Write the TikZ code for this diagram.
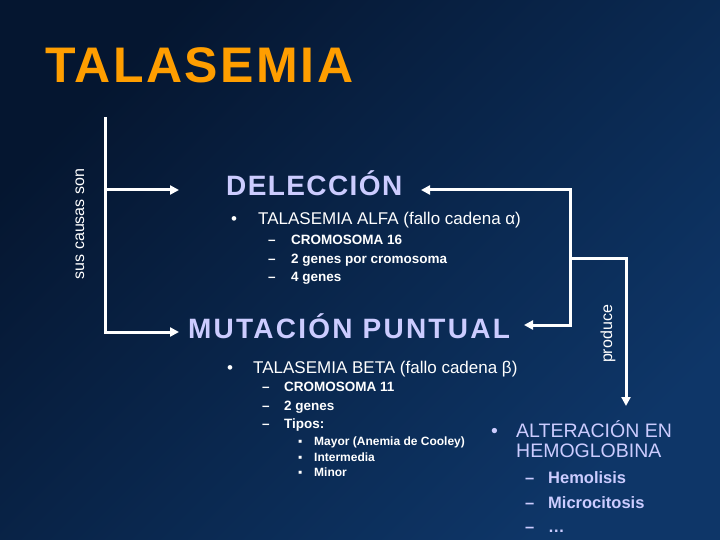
\documentclass[tikz,border=0pt]{standalone}
\usepackage{fontspec}
\setmainfont{Liberation Sans}
\usetikzlibrary{arrows.meta}
\definecolor{bgA}{RGB}{5,22,48}
\definecolor{bgB}{RGB}{14,54,104}
\definecolor{ttl}{RGB}{255,158,0}
\definecolor{lav}{RGB}{204,204,255}
\newcommand{\fsz}[1]{\fontsize{#1}{#1}\selectfont}

\begin{document}
\begin{tikzpicture}[x=1pt,y=-1pt,
  txt/.style={anchor=base west,inner sep=0pt,text=white},
  hd/.style={txt,text=lav},
  lv1/.style={txt,font=\fsz{17}},
  lv2/.style={txt,font=\fsz{13.5}\bfseries},
  lv3/.style={txt,font=\fsz{12}\bfseries},
  rt1/.style={txt,text=lav,font=\fsz{19.5}},
  rt2/.style={txt,text=lav,font=\fsz{16.5}\bfseries},
  side/.style={inner sep=0pt,text=white,rotate=90,font=\fsz{16}},
  wire/.style={white,line width=3pt},
  >={Triangle[length=9pt,width=9pt]}
]
\shade[top color=bgA,bottom color=bgB,shading angle=45] (0,0) rectangle (720,540);
\useasboundingbox (0,0) rectangle (720,540);

% title
\node[txt,text=ttl,font=\fsz{50}\bfseries\addfontfeatures{LetterSpace=5}] (title) at (45,83) {TALASEMIA};

% headings
\node[hd,font=\fsz{28}\bfseries\addfontfeatures{LetterSpace=5}] (del) at (226,196) {DELECCIÓN};
\node[hd,font=\fsz{28}\bfseries\addfontfeatures{LetterSpace=8}] (mut) at (188,338) {MUTACIÓN PUNTUAL};

% alfa
\node[lv1] (bA) at (231,225) {•};
\node[lv1] (alfa) at (258,225) {TALASEMIA ALFA (fallo cadena α)};
\node[lv2] (dA1) at (268,244) {–};
\node[lv2] (cr16) at (291,244) {CROMOSOMA 16};
\node[lv2] (dA2) at (268,263) {–};
\node[lv2] (gA) at (291,263) {2 genes por cromosoma};
\node[lv2] (dA3) at (268,281) {–};
\node[lv2] (g4) at (291,281) {4 genes};

% beta
\node[lv1] (bB) at (227,373) {•};
\node[lv1] (beta) at (253,373) {TALASEMIA BETA (fallo cadena β)};
\node[lv2] (dB1) at (262,391) {–};
\node[lv2] (cr11) at (284,391) {CROMOSOMA 11};
\node[lv2] (dB2) at (262,410) {–};
\node[lv2] (g2) at (284,410) {2 genes};
\node[lv2] (dB3) at (262,428) {–};
\node[lv2] (tip) at (284,428) {Tipos:};
\node[lv3] (sq1) at (298,445) {▪};
\node[lv3] (may) at (314,445) {Mayor (Anemia de Cooley)};
\node[lv3] (sq2) at (298,461) {▪};
\node[lv3] (int) at (314,461) {Intermedia};
\node[lv3] (sq3) at (298,476) {▪};
\node[lv3] (min) at (314,476) {Minor};

% alteracion
\node[rt1] (bC) at (491,437) {•};
\node[rt1] (alt) at (516,437) {ALTERACIÓN EN};
\node[rt1] (hem) at (516,457) {HEMOGLOBINA};
\node[rt2] (dC1) at (525,483) {–};
\node[rt2] (hml) at (548,483) {Hemolisis};
\node[rt2] (dC2) at (525,508) {–};
\node[rt2] (mcr) at (548,508) {Microcitosis};
\node[rt2] (dC3) at (525,532) {–};
\node[rt2] (dots) at (548,532) {…};

% side labels
\node[side] (causas) at (80,224) {sus causas son};
\node[side] (prod) at (608,334) {produce};

% connectors
\coordinate (lTop) at (105,117);
\coordinate (aDel) at (179,190);
\coordinate (aMut) at (179,332);
\coordinate (rJ) at (570,258);
\coordinate (bDel) at (421,190);
\coordinate (bMut) at (524,325);
\coordinate (bAlt) at (626,406);
\draw[wire,->] (lTop) |- (aMut);
\draw[wire,->] (lTop |- aDel) -- (aDel);
\draw[wire,->] (rJ) |- (bDel);
\draw[wire,->] (rJ) |- (bMut);
\draw[wire,->] (rJ) -| (bAlt);
\end{tikzpicture}
\end{document}
